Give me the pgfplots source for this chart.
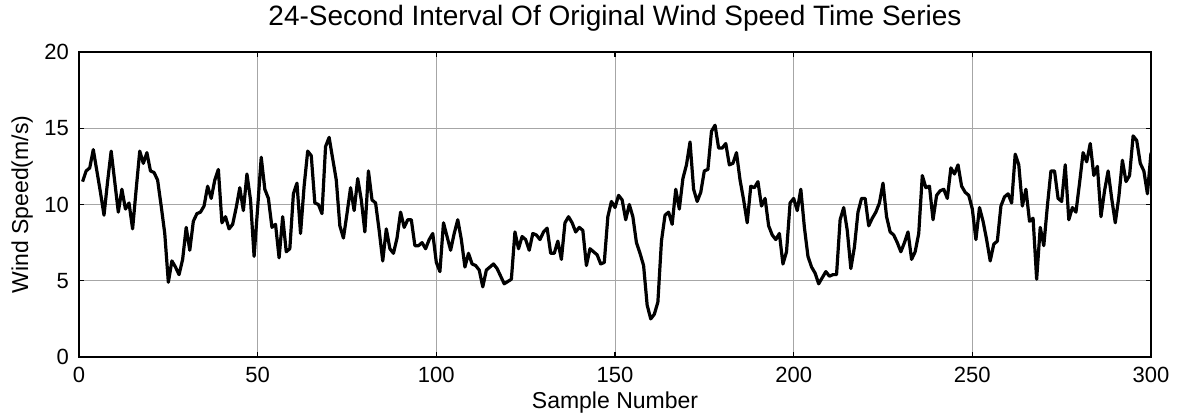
\documentclass[border=0pt]{standalone}
\usepackage{fontspec}
\setmainfont{Liberation Sans}
\usepackage{pgfplots}
\usepackage{pgfplotstable}
\pgfplotsset{compat=1.18}
\pgfplotstableread{
x y
1 11.5
2 12.2
3 12.4
4 13.6
5 12.2
6 10.8
7 9.3
8 11.5
9 13.5
10 11.5
11 9.5
12 11.0
13 9.7
14 10.1
15 8.4
16 11.0
17 13.5
18 12.7
19 13.4
20 12.2
21 12.1
22 11.6
23 9.9
24 8.1
25 4.9
26 6.3
27 5.9
28 5.4
29 6.4
30 8.5
31 7.0
32 8.9
33 9.4
34 9.5
35 9.9
36 11.2
37 10.4
38 11.6
39 12.3
40 8.8
41 9.2
42 8.4
43 8.7
44 9.8
45 11.1
46 9.6
47 12.0
48 10.3
49 6.6
50 9.8
51 13.1
52 11.0
53 10.4
54 8.5
55 8.7
56 6.5
57 9.2
58 6.9
59 7.1
60 10.7
61 11.4
62 8.1
63 11.2
64 13.5
65 13.2
66 10.1
67 10.0
68 9.4
69 13.8
70 14.4
71 13.0
72 11.6
73 8.6
74 7.8
75 9.4
76 11.1
77 9.6
78 11.7
79 10.3
80 8.2
81 12.2
82 10.3
83 10.1
84 8.3
85 6.3
86 8.4
87 7.1
88 6.8
89 7.8
90 9.5
91 8.5
92 9.0
93 9.0
94 7.3
95 7.3
96 7.5
97 7.1
98 7.7
99 8.1
100 6.2
101 5.6
102 8.8
103 7.9
104 7.0
105 8.1
106 9.0
107 7.7
108 5.9
109 6.8
110 6.1
111 6.0
112 5.7
113 4.6
114 5.7
115 5.9
116 6.1
117 5.8
118 5.3
119 4.8
120 4.95
121 5.1
122 8.2
123 7.1
124 7.9
125 7.7
126 7.0
127 8.1
128 8.0
129 7.7
130 8.2
131 8.45
132 6.8
133 6.8
134 7.6
135 6.4
136 8.8
137 9.2
138 8.8
139 8.2
140 8.5
141 8.3
142 6.0
143 7.1
144 6.9
145 6.7
146 6.1
147 6.2
148 9.2
149 10.2
150 9.8
151 10.6
152 10.3
153 9.0
154 10.0
155 9.2
156 7.5
157 6.8
158 6.0
159 3.4
160 2.5
161 2.8
162 3.6
163 7.6
164 9.3
165 9.5
166 8.7
167 11.0
168 9.7
169 11.7
170 12.6
171 14.1
172 11.0
173 10.2
174 10.8
175 12.2
176 12.3
177 14.8
178 15.2
179 13.7
180 13.7
181 14.0
182 12.6
183 12.7
184 13.4
185 11.6
186 10.3
187 8.8
188 11.2
189 11.1
190 11.5
191 9.9
192 10.4
193 8.6
194 8.0
195 7.7
196 8.1
197 6.1
198 6.9
199 10.1
200 10.4
201 9.6
202 11.0
203 8.5
204 6.6
205 5.9
206 5.5
207 4.8
208 5.2
209 5.6
210 5.3
211 5.4
212 5.4
213 9.0
214 9.8
215 8.3
216 5.8
217 7.2
218 9.5
219 10.4
220 10.4
221 8.6
222 9.1
223 9.5
224 10.1
225 11.4
226 9.2
227 8.2
228 8.0
229 7.5
230 6.9
231 7.5
232 8.2
233 6.4
234 6.9
235 8.1
236 11.9
237 11.1
238 11.2
239 9.0
240 10.6
241 10.9
242 11.0
243 10.4
244 12.4
245 12.0
246 12.6
247 11.2
248 10.8
249 10.6
250 9.7
251 7.7
252 9.8
253 8.9
254 7.7
255 6.3
256 7.4
257 7.6
258 9.9
259 10.5
260 10.7
261 10.1
262 13.3
263 12.6
264 9.9
265 11.0
266 8.9
267 9.1
268 5.1
269 8.5
270 7.3
271 9.9
272 12.2
273 12.2
274 10.4
275 10.2
276 12.6
277 9.0
278 9.8
279 9.5
280 11.4
281 13.4
282 12.8
283 14.0
284 11.9
285 12.5
286 9.2
287 10.9
288 12.2
289 10.4
290 8.8
291 10.5
292 12.9
293 11.5
294 11.9
295 14.5
296 14.2
297 12.7
298 12.2
299 10.7
300 13.4
}\windtable
\begin{document}
\begin{tikzpicture}
\useasboundingbox (-39.5pt,-30.5pt) rectangle (550.5pt,178.5pt);
\begin{axis}[
  at={(0pt,0pt)}, anchor=south west,
  width=536pt, height=152.5pt, scale only axis,
  xmin=0, xmax=300, ymin=0, ymax=20,
  xtick={0,50,...,300}, ytick={0,5,...,20},
  grid=major,
  major grid style={line width=0.4pt, gray!70},
  tick align=inside, tick pos=both,
  major tick length=2.5pt,
  every tick/.style={black, line width=0.6pt},
  axis line style={line width=0.8pt, black},
  /pgf/number format/assume math mode=true,
  tick label style={font=\fontsize{11}{13}\selectfont},
  xticklabel style={yshift=-1.5pt},
  yticklabel style={xshift=-1.5pt},
  label style={font=\fontsize{11.5}{13}\selectfont},
  xlabel={Sample Number},
  ylabel={Wind Speed(m/s)},
  xlabel style={at={(axis description cs:0.5,-0.150)}, anchor=center},
  ylabel style={at={(axis description cs:-0.053,0.5)}, anchor=center},
  title={24-Second Interval Of Original Wind Speed Time Series},
  title style={at={(axis description cs:0.5,1.072)}, anchor=center, font=\fontsize{14}{16}\selectfont},
]
\addplot[black, line width=1.6pt, line join=round, mark=none] table[x=x, y=y] {\windtable};
\end{axis}
\end{tikzpicture}
\end{document}
